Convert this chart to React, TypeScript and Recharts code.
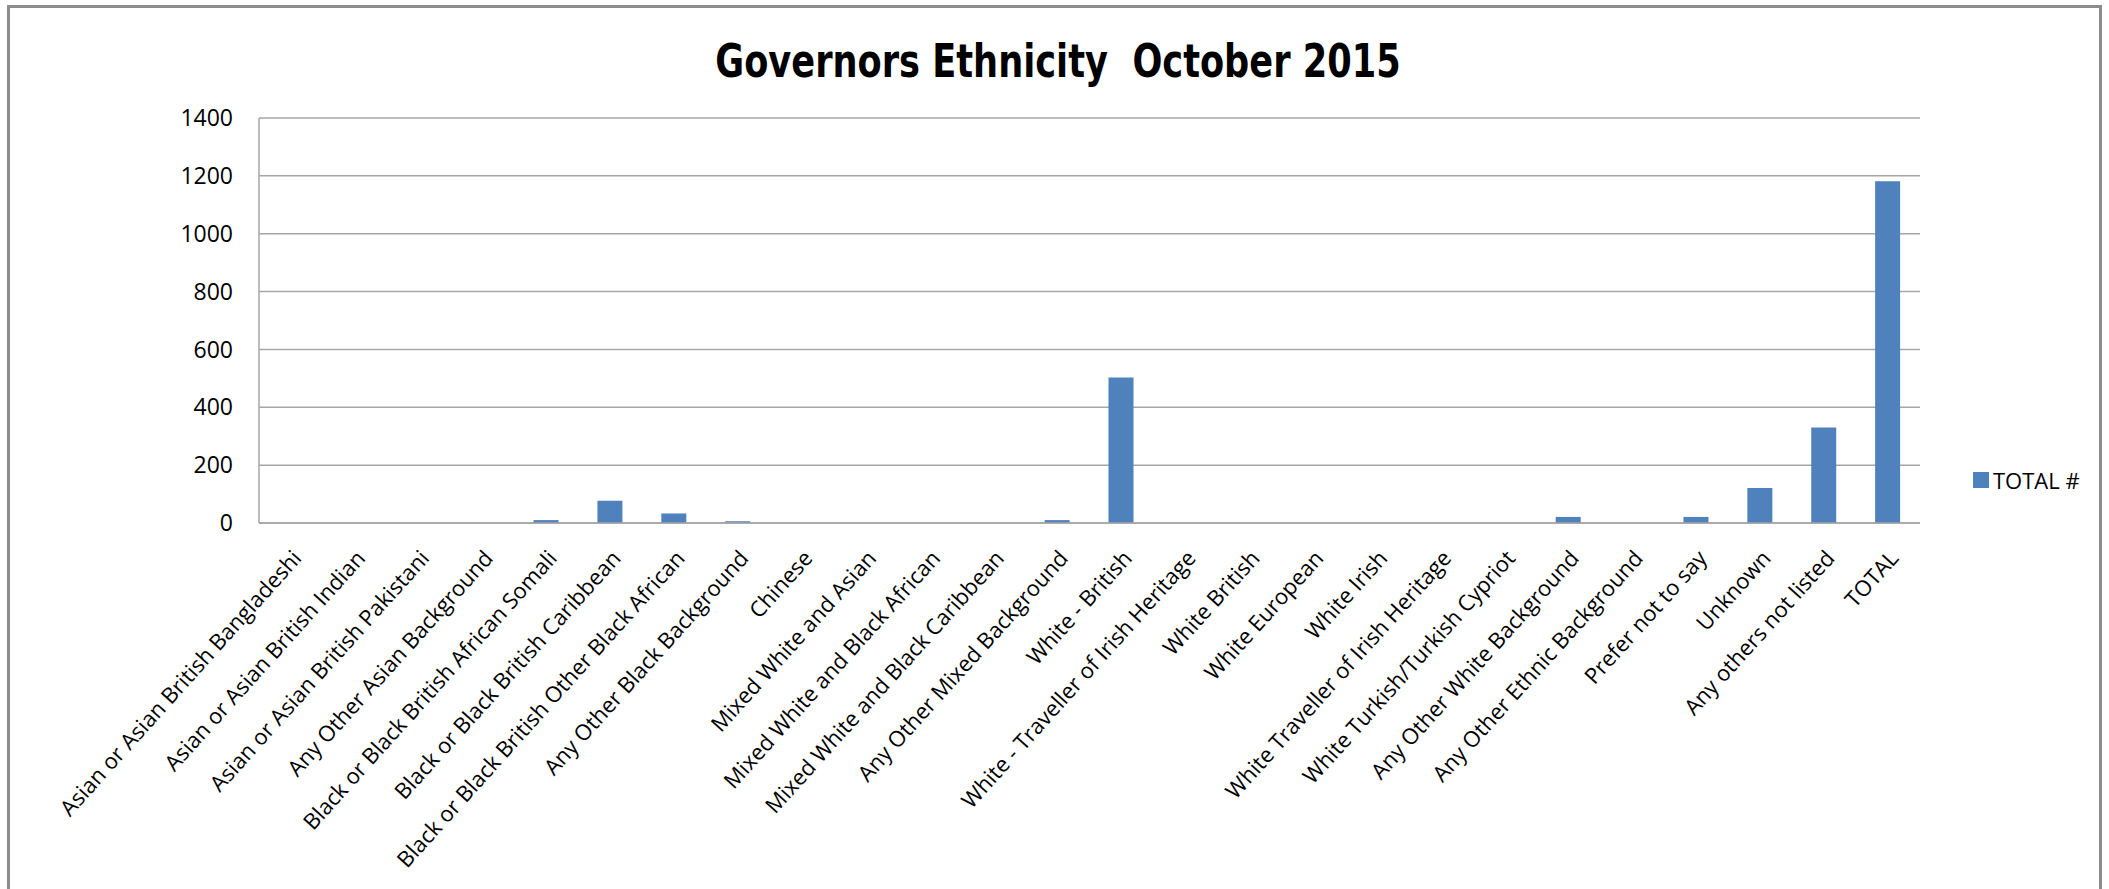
import { BarChart, Bar, XAxis, YAxis, CartesianGrid, Legend } from "recharts";

const CATEGORIES = [
  "Asian or Asian British Bangladeshi",
  "Asian or Asian British Indian",
  "Asian or Asian British Pakistani",
  "Any Other Asian Background",
  "Black or Black British African Somali",
  "Black or Black British Caribbean",
  "Black or Black British Other Black African",
  "Any Other Black Background",
  "Chinese",
  "Mixed White and Asian",
  "Mixed White and Black African",
  "Mixed White and Black Caribbean",
  "Any Other Mixed Background",
  "White - British",
  "White - Traveller of Irish Heritage",
  "White British",
  "White European",
  "White Irish",
  "White Traveller of Irish Heritage",
  "White Turkish/Turkish Cypriot",
  "Any Other White Background",
  "Any Other Ethnic Background",
  "Prefer not to say",
  "Unknown",
  "Any others not listed",
  "TOTAL",
];

const TOTALS = [
  0, 0, 0, 0, 10, 77, 33, 6, 0, 0, 0, 0, 10, 503, 0, 0, 0, 0, 0, 0, 21, 0, 21,
  121, 330, 1181,
];

const Y_TICKS = [0, 200, 400, 600, 800, 1000, 1200, 1400];

const SERIES = "TOTAL #";
const BLUE = "#4F81BD";
const GRID = "#A6A6A6";

const data = CATEGORIES.map((name, i) => ({ name, [SERIES]: TOTALS[i] }));

function CatTick(props: any) {
  const { x, y, payload } = props;
  return (
    <g transform={`translate(${x + 6},${y + 23})`}>
      <text
        textAnchor="end"
        transform="rotate(-48)"
        dy="0.35em"
        fontFamily="'Open Sans', sans-serif"
        fontSize={22}
        fill="#000"
      >
        {payload.value}
      </text>
    </g>
  );
}

function LegendBox(props: any) {
  const items = props.payload || [];
  return (
    <div>
      {items.map((it: any) => (
        <div
          key={it.value}
          style={{
            display: "flex",
            alignItems: "center",
            fontFamily: "'Open Sans', sans-serif",
            fontSize: 22,
            color: "#000",
          }}
        >
          <span
            style={{
              width: 16,
              height: 16,
              background: BLUE,
              marginRight: 4,
              display: "inline-block",
            }}
          />
          {it.value}
        </div>
      ))}
    </div>
  );
}

export default function App() {
  return (
    <div
      style={{
        position: "absolute",
        left: 0,
        top: 0,
        width: 2109,
        height: 889,
        background: "#fff",
        overflow: "hidden",
      }}
    >
      <div
        style={{
          position: "absolute",
          left: 7,
          top: 5,
          width: 2089,
          height: 900,
          borderTop: "3px solid #8C8C8C",
          borderLeft: "3px solid #8C8C8C",
          borderRight: "3px solid #8C8C8C",
        }}
      />
      <div
        style={{
          position: "absolute",
          left: 0,
          top: 38,
          width: 2116,
          textAlign: "center",
          fontFamily: "'DejaVu Sans Condensed', sans-serif",
          fontWeight: 700,
          fontSize: 46,
          lineHeight: "46px",
          color: "#000",
          whiteSpace: "pre",
          transform: "scaleX(0.85)",
        }}
      >
        <span>Governors Ethnicity</span>
        <span>{"  October 2015"}</span>
      </div>
      <BarChart
        width={2109}
        height={889}
        data={data}
        margin={{ top: 118, right: 59, bottom: 36, left: 179 }}
        barSize={25}
      >
        <CartesianGrid vertical={false} stroke={GRID} strokeWidth={1.5} />
        <XAxis
          dataKey="name"
          interval={0}
          height={330}
          tickLine={false}
          axisLine={{ stroke: GRID, strokeWidth: 1.5 }}
          tick={<CatTick />}
        />
        <YAxis
          width={80}
          domain={[0, 1400]}
          ticks={Y_TICKS}
          tickLine={false}
          tickMargin={20}
          axisLine={{ stroke: GRID, strokeWidth: 1.5 }}
          tick={{
            fontFamily: "'Open Sans', sans-serif",
            fontSize: 23,
            fill: "#000",
          }}
        />
        <Legend
          layout="vertical"
          align="right"
          verticalAlign="middle"
          content={<LegendBox />}
          wrapperStyle={{ left: 1973, top: 465, width: 130 }}
        />
        <Bar dataKey={SERIES} fill={BLUE} isAnimationActive={false} />
      </BarChart>
    </div>
  );
}
